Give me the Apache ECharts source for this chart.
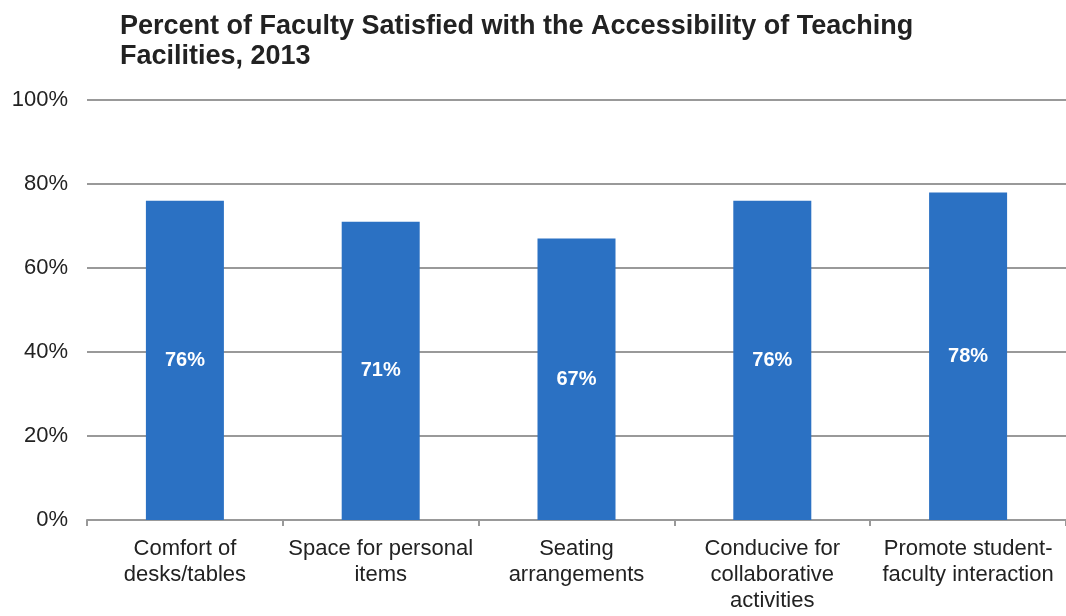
<!DOCTYPE html>
<html>
<head>
<meta charset="utf-8">
<script src="https://cdn.jsdelivr.net/npm/echarts@6/dist/echarts.min.js"></script>
<style>
  html, body { margin: 0; padding: 0; background: #fff; }
  #chart { width: 1066px; height: 616px; }
</style>
</head>
<body>
<div id="chart"></div>
<script>
var titleText = 'Percent of Faculty Satisfied with the Accessibility of Teaching\nFacilities, 2013'
var categories = [
  'Comfort of\ndesks/tables',
  'Space for personal\nitems',
  'Seating\narrangements',
  'Conducive for\ncollaborative\nactivities',
  'Promote student-\nfaculty interaction'
]
var satisfied = [76, 71, 67, 76, 78]
var yTicks = [0, 20, 40, 60, 80, 100]

var chart = echarts.init(document.getElementById('chart'))
var option = {
  animation: false,
  title: {
    text: titleText,
    left: 115,
    top: 7,
    textStyle: {
      fontFamily: 'Liberation Sans, Arial, sans-serif',
      fontSize: 27,
      fontWeight: 'bold',
      color: '#222',
      lineHeight: 30
    }
  },
  grid: {
    left: 87,
    right: 0,
    top: 100,
    bottom: 96
  },
  xAxis: {
    type: 'category',
    data: categories,
    axisLine: { lineStyle: { color: '#999', width: 2 } },
    axisTick: { show: true, length: 6, lineStyle: { color: '#999', width: 2 } },
    axisLabel: {
      interval: 0,
      margin: 16,
      fontFamily: 'Liberation Sans, Arial, sans-serif',
      fontSize: 22,
      lineHeight: 26,
      color: '#222'
    }
  },
  yAxis: {
    type: 'value',
    min: yTicks[0],
    max: yTicks[yTicks.length - 1],
    interval: 20,
    axisLine: { show: false },
    axisTick: { show: false },
    splitLine: { lineStyle: { color: '#999', width: 2 } },
    axisLabel: {
      margin: 19,
      fontFamily: 'Liberation Sans, Arial, sans-serif',
      fontSize: 22,
      color: '#222',
      formatter: function (v) { return v + '%' }
    }
  },
  series: [{
    type: 'bar',
    data: satisfied,
    barWidth: 78,
    itemStyle: { color: '#2B71C3' },
    label: {
      show: true,
      position: 'inside',
      color: '#fff',
      fontFamily: 'Liberation Sans, Arial, sans-serif',
      fontSize: 20,
      fontWeight: 'bold',
      formatter: function (p) { return p.value + '%' }
    }
  }]
}
chart.setOption(option, true)
</script>
</body>
</html>
